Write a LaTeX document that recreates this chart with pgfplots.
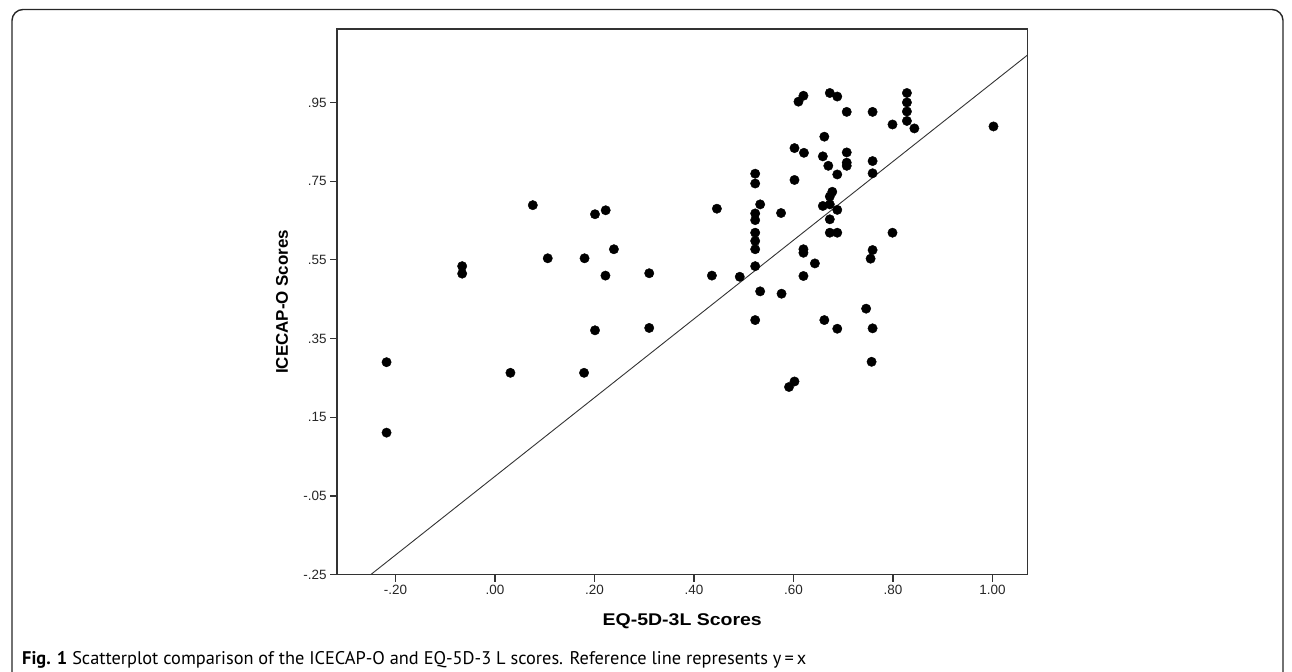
\documentclass[border=0pt]{standalone}
\usepackage{pgfplots}
\pgfplotsset{compat=1.18}
\usepackage{fontspec}
\setmainfont{Liberation Sans}
\newfontfamily\capfont{PT Sans}
\begin{document}
\begin{tikzpicture}
\useasboundingbox (0,0) rectangle (1292bp,-672bp);
\draw[line width=1.4bp, black!85, rounded corners=11bp] (12bp,-680bp) -- (12bp,-9.5bp) -- (1283bp,-9.5bp) -- (1283bp,-680bp);
\begin{axis}[
  at={(337bp,-29bp)}, anchor=north west,
  scale only axis, width=690.5bp, height=545.7bp,
  xmin=-0.3176, xmax=1.0704, ymin=-0.25, ymax=1.1366,
  axis line style={line width=1.2bp, black!80},
  tick style={line width=1.2bp, black!80},
  tick align=outside, major tick length=7bp,
  xtick pos=bottom, ytick pos=left,
  xtick={-0.2,0,0.2,0.4,0.6,0.8,1.0},
  xticklabels={-.20,.00,.20,.40,.60,.80,1.00},
  ytick={-0.25,-0.05,0.15,0.35,0.55,0.75,0.95},
  yticklabels={-.25,-.05,.15,.35,.55,.75,.95},
  /pgf/number format/assume math mode=true,
  ticklabel style={font=\fontsize{13.5}{15}\selectfont, text=black!85},
  xlabel={\scalebox{1.15}[1]{EQ-5D-3L Scores}}, ylabel={ICECAP-O Scores},
  label style={font=\fontsize{17}{19}\selectfont\bfseries},
  xlabel style={at={(axis description cs:0.5,-0.0861)}, anchor=center},
  ylabel style={at={(axis description cs:-0.0797,0.5)}, anchor=center},
  clip=true,
]
\addplot[only marks, mark=*, mark size=4.7bp, black] coordinates {
(0.620,0.967) (0.610,0.952) (0.673,0.974) (0.688,0.965) (0.828,0.974)
(0.828,0.950) (0.828,0.927) (0.828,0.903) (0.843,0.884) (0.707,0.926)
(0.759,0.926) (0.799,0.894) (0.662,0.863) (0.602,0.834) (0.621,0.822)
(0.659,0.813) (0.707,0.823) (0.670,0.789) (0.707,0.797) (0.707,0.789)
(0.759,0.801) (0.759,0.770) (0.688,0.767) (0.523,0.769) (0.523,0.744)
(0.602,0.753) (0.446,0.680) (0.533,0.691) (0.523,0.668) (0.523,0.651)
(0.575,0.669) (0.678,0.723) (0.673,0.711) (0.659,0.687) (0.673,0.691)
(0.688,0.677) (0.673,0.653) (0.523,0.619) (0.523,0.598) (0.523,0.577)
(0.673,0.619) (0.688,0.619) (0.799,0.619) (0.620,0.577) (0.620,0.568)
(0.643,0.541) (0.759,0.575) (0.755,0.553) (0.523,0.534) (0.436,0.510)
(0.492,0.507) (0.620,0.509) (0.533,0.470) (0.576,0.464) (0.523,0.397)
(0.746,0.426) (0.662,0.397) (0.688,0.375) (0.759,0.376) (0.757,0.291)
(0.602,0.241) (0.591,0.227) (0.076,0.689) (-0.066,0.534) (-0.066,0.515)
(-0.218,0.290) (0.031,0.263) (-0.218,0.111) (0.201,0.666) (0.2225,0.676)
(0.106,0.554) (0.180,0.554) (0.239,0.577) (0.222,0.510) (0.310,0.516)
(0.201,0.371) (0.310,0.377) (0.179,0.263) (1.002,0.889)
};
\addplot[black!80, line width=0.9bp] coordinates {(-0.25,-0.25) (1.0704,1.0704)};
\end{axis}
\node[anchor=base west, inner sep=0pt, font=\capfont\fontsize{18.4}{21}\selectfont] at (22bp,-664bp)
  {\textbf{Fig. 1} Scatterplot comparison of the ICECAP-O and EQ-5D-3 L scores. Reference line represents y\,=\,x};
\end{tikzpicture}
\end{document}
